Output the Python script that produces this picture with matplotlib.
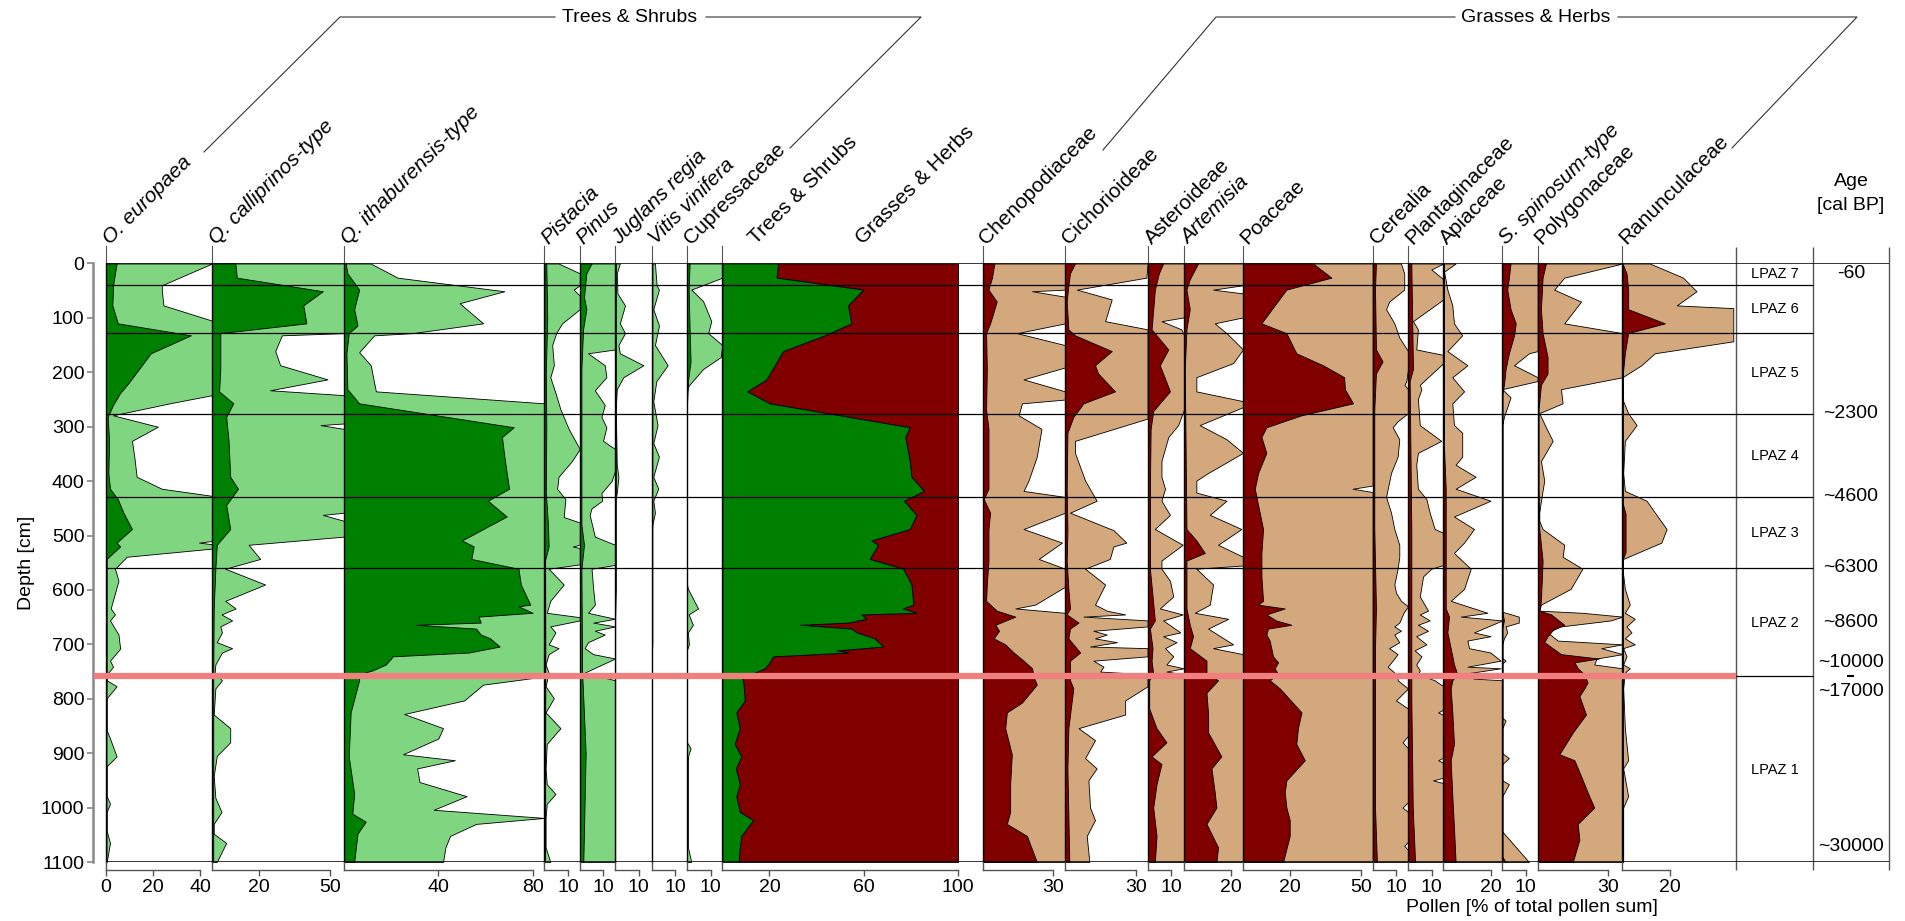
import matplotlib
matplotlib.use("Agg")
import matplotlib.pyplot as plt
from matplotlib.lines import Line2D

plt.rcParams['font.family'] = ['Liberation Sans', 'DejaVu Sans']

# ---------------------------------------------------------------- data
# (depth [cm], percent) vertices; *_EX = exaggerated curve drawn behind
OLEA = [(0,4.5),(40,3),(77,2.7),(110,5),(132,36),(165,19),(194,14),(220,9.5),(238,6),(260,3),(282,0.7),
        (326,1.3),(385,1),(414,1.7),(433,5),(458,7.4),(488,11),(513,4.5),(520,6),(543,0.3),(600,0.3),
        (700,0.3),(759,0.3),(800,0.2),(1100,0.2)]
OLEA_EX = [(0,45),(40,23.7),(51,23.7),(77,24.4),(105,45),(242,45),(257,27),(279,3),(300,22),(326,11),
           (355,12),(392,13),(414,23.7),(427,45),(510,45),(513,39.5),(516,45),(524,45),(539,8.8),(561,3.8),
           (583,5.3),(634,2),(645,3.8),(656,1.7),(682,5.3),(708,6),(730,1.7),(741,3),(752,1),(766,0.3),
           (777,4.5),(799,0.3),(858,0.3),(873,1.7),(906,4.5),(924,0.3),(979,0.3),(993,1.7),(1008,0.3),
           (1043,0.3),(1065,1.7),(1100,0.3)]
QCAL = [(0,9.9),(26,10.5),(51,47),(77,38.7),(110,40),(128,3.5),(194,3.5),(235,3),(257,9),(282,6),(326,7),
        (392,7.7),(414,11),(444,6),(488,7.7),(517,2),(561,1.4),(634,0.7),(700,0.6),(759,0.5),(1100,0.5)]
QCAL_EX = [(0,56),(128,56),(132,29.6),(161,26.8),(187,28.9),(213,49),(233,24.6),(242,56),(294,56),(297,46),
           (304,56),(458,56),(462,47),(473,56),(502,56),(517,15.5),(543,20.4),(561,5.6),(590,22.5),(620,5.6),
           (634,10),(645,4),(656,8.5),(667,3.5),(678,4.2),(696,2),(707,8.5),(715,4.2),(737,1.4),(752,1.1),
           (766,4.2),(781,1.4),(829,0.7),(854,7.7),(880,7.7),(905,2),(942,0.7),(982,1.4),(1008,4),(1030,0.7),
           (1048,0.7),(1065,6),(1100,2)]
QITH = [(0,0.7),(18,1.4),(48,6.4),(84,4.3),(114,5.7),(128,2),(165,1),(231,1.4),(257,6.4),(301,72),(319,67),
        (355,68),(414,70),(436,61),(465,69),(509,50),(520,55),(543,54),(561,74),(590,75),(627,79),(630,74),
        (642,80),(649,57),(660,58),(664,30.5),(671,56),(682,58),(689,62),(704,66),(715,53),(722,20.6),
        (726,20),(737,17.7),(748,12),(755,6.4),(766,6.4),(789,5),(825,2.8),(906,2),(975,4.3),(1011,3.5),
        (1026,9.2),(1048,5.7),(1100,4.3)]
QITH_EX = [(0,11.3),(26,22.7),(51,68),(73,49),(110,59),(128,29),(132,12.8),(163,6.4),(187,11.3),(235,13.5),
           (257,85),(759,85),(766,73),(774,59),(803,51),(828,25.5),(854,42),(873,40),(902,25),(913,47),
           (928,31),(953,32),(979,52),(1004,38),(1019,85),(1030,56),(1052,45),(1073,43),(1100,42)]
PIST = [(0,0.8),(100,1.2),(200,0.6),(300,0.8),(420,0.6),(480,1.5),(520,1.8),(545,0.3),(700,0.4),(1100,0.3)]
PIST_EX = [(0,6),(18,15),(40,15),(48,12.4),(59,15),(84,15),(110,7.5),(128,5),(150,3.3),(187,4),(209,2.5),
           (238,4.7),(268,6.8),(304,10.3),(341,15),(363,11.7),(392,6),(414,5.4),(433,8.9),(466,8.2),(476,15),
           (517,15),(520,12),(523,15),(553,15),(561,1.8),(590,8.2),(620,2.5),(642,1),(650,15),(656,15),
           (667,2.5),(678,4.7),(700,1.8),(707,6),(718,1.8),(737,0.5),(752,1.8),(777,0.5),(799,4),(825,0.5),
           (854,6.8),(883,1),(928,0.5),(957,1),(975,4.7),(993,1),(1019,0.5),(1073,0.5),(1100,2.5)]
PINU = [(0,5),(18,2.8),(62,1.8),(84,2.8),(121,1.4),(194,0.7),(480,0.7),(517,1.8),(561,0.7),(752,1),(800,1.5),
        (900,2.5),(1000,2),(1100,1.5)]
PINU_EX = [(0,15),(158,15),(165,3.5),(187,10.6),(209,11.3),(233,6.4),(260,10.6),(282,9.2),(301,11.3),
           (326,9.9),(341,15),(381,15),(400,13.5),(422,9.2),(436,9.5),(450,5),(462,4.2),(502,6.4),(517,15),
           (554,15),(561,5),(598,5.7),(627,6.4),(642,3.5),(653,15),(660,5.7),(667,15),(675,6.4),(682,10.6),
           (696,3.5),(707,2.1),(718,5.7),(726,15),(740,8),(752,2.1),(766,15),(1100,15)]
JUGL = [(0,0.3),(600,0.3),(650,0),(1100,0)]
JUGL_EX = [(0,2),(18,0.7),(55,1),(77,4.2),(110,2),(128,4.2),(150,1.4),(165,2),(187,12),(209,3.5),(231,0.7),
           (268,0.3),(370,0.7),(392,1.4),(422,0.7),(436,0),(1100,0)]
VITI = [(0,0.3),(700,0.3),(720,0),(1100,0)]
VITI_EX = [(0,1.4),(40,2.1),(48,3.1),(84,0.7),(114,3.1),(150,1.4),(187,6.8),(216,2),(253,0.7),(297,2.5),
           (330,0.7),(355,3.1),(392,0.7),(414,2.8),(436,0.7),(458,1.4),(480,0.3),(500,0),(1100,0)]
CUPR = [(0,1.1),(48,0.7),(121,1.1),(180,1.5),(213,0.5),(260,0),(1100,0)]
CUPR_EX = [(0,15),(26,15),(48,1.8),(69,6.8),(106,10.3),(128,9),(150,15),(172,14.3),(194,6.8),(227,0.2),
           (240,0),(590,0),(598,0.4),(634,4.7),(645,0.7),(664,2.5),(678,0.4),(700,0.8),(710,0),(880,0),
           (891,1.5),(906,0.4),(1073,0.4),(1100,1.8)]
TREES_SUM = [(0,23.6),(26,23),(48,59.7),(77,53.3),(110,54.7),(132,43.4),(161,25.7),(187,22.2),(213,18.7),
             (235,10.5),(257,20),(301,79.5),(319,77.6),(363,79.5),(392,80.2),(418,85.5),(436,77),(462,82.3),
             (488,79.5),(509,63.2),(517,66),(543,62.5),(561,76.7),(590,80.2),(627,81),(634,76.5),(642,82.3),
             (645,59),(653,61),(660,53.3),(664,32.8),(671,54.7),(678,57),(682,59.7),(689,64.6),(704,68.2),
             (711,48.4),(715,53.3),(722,21.5),(733,20),(744,18),(752,13.7),(759,8),(766,8.8),(803,9.5),
             (825,5.9),(854,7.4),(883,5.2),(906,8),(928,5.7),(957,7.4),(979,5.9),(1008,7.4),(1023,13),
             (1052,8),(1073,7.4),(1100,6.9)]
CHEN = [(0,5),(26,4),(48,2.5),(70,6),(110,3.2),(128,1.5),(194,1.8),(268,1.5),(304,2.5),(414,2.5),(433,0.5),
        (458,3.2),(488,2.5),(546,2.5),(590,1.8),(620,1.5),(638,6),(649,13.9),(664,5.4),(675,7),(689,4.7),
        (700,9.6),(715,13.2),(730,17.4),(744,21),(759,21.6),(774,23),(807,16.7),(825,10.3),(854,9.6),
        (902,12.4),(957,11.7),(1008,11.7),(1030,10.3),(1052,18.8),(1100,23)]
CHEN_EX = [(0,35),(48,35),(51,21),(61,35),(110,35),(128,14.6),(150,35),(191,35),(213,17.4),(235,35),
           (250,35),(257,16.7),(279,15.3),(304,25),(355,23),(399,19.5),(418,17.4),(429,35),(458,35),
           (488,17.4),(513,33.7),(543,23.8),(561,35),(594,35),(627,22.3),(634,13.9),(642,35),(1100,35)]
CICH = [(0,4.2),(18,2.1),(40,1.4),(70,0.7),(121,1.4),(132,4.2),(161,19.8),(187,12.7),(202,14),(235,21.2),
        (257,7.8),(282,3.5),(311,1),(414,0.7),(488,1),(546,0.7),(598,1.4),(634,2.1),(645,0.7),(660,5.7),
        (671,2.1),(689,1.4),(715,6.4),(730,2.1),(752,2.1),(766,2.1),(781,3.5),(854,1.4),(928,1),(1100,1.8)]
CICH_EX = [(0,35),(26,34.5),(48,5),(66,19.8),(106,17),(121,35),(285,35),(326,4.2),(348,4.2),(399,8.5),
           (436,13.4),(458,2.1),(490,20.5),(513,26),(520,20.5),(543,19),(561,8.5),(590,17),(627,12.7),
           (638,17.7),(645,25.5),(649,7.8),(656,35),(667,35),(675,12),(682,17.7),(689,12.7),(696,22),
           (704,10.6),(707,35),(722,35),(730,12),(741,16.3),(750,14.9),(755,35),(777,35),(803,25.5),
           (829,25.5),(854,5.7),(876,12.7),(909,8.5),(928,13.4),(950,9.9),(1000,10.6),(1023,12.7),
           (1052,9.2),(1100,10.3)]
ASTE = [(0,6.6),(18,4.8),(48,3.1),(121,1.7),(158,8.8),(187,5.2),(235,9.5),(271,2.4),(304,1.3),(414,1),
        (561,1),(656,3.1),(671,1),(707,2.1),(730,1.7),(755,2.4),(766,0.7),(818,0.7),(854,3.8),(880,8),
        (906,1.7),(920,5.9),(957,3.8),(1000,2.4),(1052,3.8),(1100,3.1)]
ASTE_EX = [(0,15.5),(99,15.5),(106,5.9),(121,14.3),(132,15.5),(268,15.5),(297,13),(319,8.8),(363,5.9),
           (392,5.9),(414,7.4),(436,5.9),(462,9.5),(488,3.1),(517,14.9),(546,5.9),(561,5.9),(583,9.5),
           (612,10.9),(634,5.2),(645,14.9),(656,6.6),(678,13.9),(685,6.6),(696,12.3),(707,7.4),(722,10.9),
           (737,8),(744,15.3),(750,8),(755,15.5),(1100,15.5)]
ARTE = [(0,5.9),(29,2.4),(48,1),(84,2.4),(121,1),(194,0.3),(488,1),(509,5.2),(532,8.8),(546,1),(634,1),
        (664,2.4),(685,3.8),(707,2.4),(730,9.5),(752,9.5),(766,14.4),(789,9.5),(829,10.2),(862,10.2),
        (906,15.8),(928,11.6),(972,13),(1000,13.7),(1030,9.5),(1073,14.4),(1100,13.7)]
ARTE_EX = [(0,25),(40,25),(48,12.3),(55,25),(99,25),(110,13),(128,18),(158,25),(183,20.8),(209,5.2),
           (235,5.2),(253,25),(264,25),(297,6.6),(323,18),(348,25),(385,10.2),(399,5.2),(421,5.2),(436,18),
           (462,10.9),(488,24.3),(517,14.4),(539,25),(555,25),(561,5.2),(590,12.3),(627,10.9),(642,4.5),
           (653,18.7),(671,10.2),(700,20.8),(707,12.3),(718,25),(1100,25)]
POAC = [(0,29.7),(26,37.5),(48,18.4),(77,13.4),(110,7.8),(128,18.4),(165,22.6),(187,33.9),(209,42.9),
        (231,43.2),(257,46.7),(279,24.8),(301,9.9),(319,7.8),(348,9.9),(385,6.4),(414,5),(444,6.4),
        (488,8.5),(532,7.8),(575,7.8),(620,8.5),(627,6.4),(634,17.7),(645,9.9),(656,14),(664,20.5),
        (671,10.6),(682,9.9),(693,11.3),(707,12),(722,12.7),(733,14.9),(744,13.4),(755,14.9),(766,11.3),
        (781,15.6),(825,24.8),(854,23.3),(883,22.6),(913,26.2),(950,18.4),(972,17.7),(1000,18.4),
        (1023,19.8),(1052,19.8),(1100,17)]
POAC_EX = [(0,55),(408,55),(414,46.5),(420,55),(1100,55)]
CERE = [(0,1.4),(48,1),(158,1.4),(180,4.2),(202,1.4),(268,0.7),(488,0.7),(634,1.4),(707,1),(1000,1),(1100,1.8)]
CERE_EX = [(0,12),(18,13.4),(48,13.4),(70,7),(84,5.7),(110,9.2),(136,11.3),(161,15),(194,15),(216,14.3),
           (223,13.5),(231,15),(275,15),(290,10.6),(301,8.5),(323,11.3),(355,10.6),(385,7.8),(414,6.4),
           (429,5.7),(458,7.8),(488,9.2),(517,11.3),(539,11.3),(561,10.6),(590,9.2),(605,9.9),(620,12),
           (630,15),(642,13.1),(660,11.3),(667,9.2),(675,12),(682,9.2),(696,11.3),(707,7),(718,10.6),
           (726,9.2),(741,6.4),(752,9.2),(759,10.6),(766,10.6),(781,15),(803,9.9),(818,15),(868,15),
           (880,12.7),(891,15),(990,15),(1000,12.7),(1008,15),(1063,15),(1070,13.4),(1078,15),(1100,15)]
PLAN = [(0,1.4),(194,2.1),(216,0.7),(488,1.4),(800,1.4),(1000,2),(1100,3)]
PLAN_EX = [(0,15),(11,9.9),(29,15),(66,15),(106,2.1),(121,4.2),(158,3.5),(168,15),(183,15),(223,5),
           (231,5.7),(249,4.2),(297,5),(326,14.1),(348,4.2),(370,3.5),(414,4.2),(433,7.8),(458,9.2),
           (488,11.3),(495,15),(554,15),(561,9.9),(575,6.4),(612,5),(638,8.5),(645,5),(656,9.2),(664,4.2),
           (675,8.5),(685,3.5),(700,7.8),(711,2.8),(722,5.7),(737,3.5),(748,5),(755,4.2),(766,11.3),
           (777,15),(820,15),(825,12.8),(830,15),(908,15),(913,12.8),(918,15),(945,15),(950,10.6),
           (955,15),(1100,15)]
APIA = [(0,0.3),(341,0.3),(414,1),(634,1),(649,2.4),(678,1.7),(707,3.1),(737,4.5),(755,5.9),(766,3.8),
        (781,3.1),(825,3.8),(883,4.5),(913,3.1),(979,3.8),(1037,4.5),(1100,5.2)]
APIA_EX = [(0,5.2),(15,0.3),(48,1.7),(77,3.8),(110,4.5),(132,8),(161,1.7),(187,10.2),(209,3.8),(235,8.8),
           (257,3.8),(297,4.5),(311,8),(355,8),(370,5.2),(392,13.7),(414,5.2),(436,20),(465,4.5),(488,13),
           (513,8.8),(532,4.5),(561,11.6),(598,8.8),(620,3.1),(642,18.7),(649,7.4),(656,25),(678,13),
           (685,20),(693,10.2),(707,10.9),(715,20),(730,24.3),(741,10.2),(744,24.3),(755,7.4),(763,13),
           (766,25),(1100,25)]
SARC = [(0,3.5),(26,2.8),(48,2.1),(84,3.5),(110,5.7),(132,5),(165,2.8),(194,1.4),(223,0.7),(240,0),
        (640,0),(656,0.7),(670,0),(1090,0),(1100,1.4)]
SARC_EX = [(0,15),(161,15),(165,11.3),(187,5),(209,15),(216,15),(231,0),(246,3.5),(282,0.7),(297,0),
           (640,0),(649,7),(660,7),(667,1.4),(678,2.1),(689,0.7),(700,0),(725,0),(730,1.4),(735,0),
           (835,0),(840,1.4),(854,0),(900,0),(909,2.8),(920,0),(950,0),(957,2.8),(979,0),(1044,0),(1100,11.3)]
POLY = [(0,3.5),(26,2.1),(84,1.4),(128,2.1),(172,4.2),(202,4.2),(223,1.4),(268,0.4),(414,0.4),(488,0.7),
        (546,2.1),(620,1.4),(638,0.7),(645,5.7),(664,11.3),(671,7),(685,4.2),(696,2.8),(707,6.4),(718,9.9),
        (726,26),(733,15.6),(744,17),(755,19.8),(770,21.2),(781,19.8),(795,17.7),(829,20.5),(862,14.9),
        (902,9.2),(913,15.6),(942,18.4),(972,21.2),(1000,24),(1030,17),(1059,17.7),(1100,14.9)]
POLY_EX = [(0,36),(26,11.3),(48,7),(70,18.4),(110,11.3),(128,36),(209,36),(231,9.9),(257,10.6),(275,0.7),
           (301,3.5),(326,6.4),(363,1.4),(399,2.8),(436,1.4),(458,0.7),(473,0.7),(488,2.1),(517,11.3),
           (539,10.6),(561,19),(598,14),(627,1.4),(638,0.7),(642,19),(649,36),(656,31),(667,9.9),(678,4.2),
           (693,8.5),(700,36),(707,27),(718,36),(726,25),(737,24),(744,36),(1100,36)]
RANU = [(0,0),(18,1.7),(48,2.4),(84,2.4),(110,18),(128,2.4),(165,1),(209,0),(440,0),(460,1.3),(530,1.3),
        (545,0),(1100,0)]
RANU_EX = [(0,11.6),(26,25.7),(51,31.4),(77,23),(82,47),(143,47),(165,13.7),(187,8),(209,0),(253,0.3),
           (275,2.4),(297,6),(326,1),(385,0.3),(418,1),(436,10.2),(488,18.7),(513,16.5),(543,0.3),(561,0),
           (598,1),(627,3.1),(642,1),(653,5.2),(667,1.7),(678,3.8),(689,1),(700,5.2),(707,0.3),(722,1.7),
           (737,0.3),(744,3.1),(752,1),(781,0.3),(854,1),(913,2.4),(928,0.3),(979,2.4),(1000,0.3),(1100,0.3)]

ZONE_BOUNDS = [40, 127, 277, 430, 560]
HIATUS_DEPTH = 759
ZONE_NAMES = ['LPAZ 7', 'LPAZ 6', 'LPAZ 5', 'LPAZ 4', 'LPAZ 3', 'LPAZ 2', 'LPAZ 1']
ZONE_LABEL_DEPTHS = [20, 83, 202, 353, 495, 660, 930]
AGE_TEXT = ['-60', '~2300', '~4600', '~6300', '~8600', '~10000', '~17000', '~30000']
AGE_DEPTHS = [18, 276, 428, 558, 660, 734, 787, 1071]
DEPTH_TICKS = list(range(0, 1101, 100))

# ---------------------------------------------------------------- style
DK_GREEN, LT_GREEN = '#008000', '#80D680'
DK_RED, TAN = '#800000', '#D3A87C'
HIATUS = '#F08080'

W, H = 1906, 921
Y_TOP, Y_BOT = 263.5, 862.0
X0, PPU = 106.0, 2.357          # left edge of first panel, pixels per percent
LABEL_Y = 246.0
LABEL_FS = 15

# label, italic, curve, exaggerated curve, colours, panel width (%), ticks
TAXA = [
    ('O. europaea', True, OLEA, OLEA_EX, 'tree', 45, [0, 20, 40]),
    ('Q. calliprinos-type', True, QCAL, QCAL_EX, 'tree', 56, [20, 50]),
    ('Q. ithaburensis-type', True, QITH, QITH_EX, 'tree', 85, [40, 80]),
    ('Pistacia', True, PIST, PIST_EX, 'tree', 15, [10]),
    ('Pinus', True, PINU, PINU_EX, 'tree', 15, [10]),
    ('Juglans regia', True, JUGL, JUGL_EX, 'tree', 15.5, [10]),
    ('Vitis vinifera', True, VITI, VITI_EX, 'tree', 15, [10]),
    ('Cupressaceae', False, CUPR, CUPR_EX, 'tree', 15, [10]),
    ('SUM', False, TREES_SUM, None, 'sum', 100, [20, 60, 100]),
    ('Chenopodiaceae', False, CHEN, CHEN_EX, 'herb', 35, [30]),
    ('Cichorioideae', False, CICH, CICH_EX, 'herb', 35, [30]),
    ('Asteroideae', False, ASTE, ASTE_EX, 'herb', 15.5, [10]),
    ('Artemisia', True, ARTE, ARTE_EX, 'herb', 25, [20]),
    ('Poaceae', False, POAC, POAC_EX, 'herb', 55, [20, 50]),
    ('Cerealia', False, CERE, CERE_EX, 'herb', 15, [10]),
    ('Plantaginaceae', False, PLAN, PLAN_EX, 'herb', 15, [10]),
    ('Apiaceae', False, APIA, APIA_EX, 'herb', 25, [20]),
    ('S. spinosum-type', True, SARC, SARC_EX, 'herb', 15, [10]),
    ('Polygonaceae', False, POLY, POLY_EX, 'herb', 36, [30]),
    ('Ranunculaceae', False, RANU, RANU_EX, 'herb', 48.3, [20]),
]
GAP_AFTER_SUM = 10.4

fig = plt.figure(figsize=(W / 100, H / 100), dpi=100)


def fig_line(xs, ys, **kw):
    kw.setdefault('color', '#333333')
    kw.setdefault('lw', 0.8)
    fig.add_artist(Line2D([x / W for x in xs], [1 - y / H for y in ys],
                          transform=fig.transFigure, **kw))


def fig_text(x, y, s, **kw):
    fig.text(x / W, 1 - y / H, s, **kw)


def split(pts):
    return [p[0] for p in pts], [p[1] for p in pts]


offset = 0.0
for label, italic, curve, curve_ex, kind, width, ticks in TAXA:
    left_px = X0 + offset * PPU
    ax = fig.add_axes([left_px / W, 1 - Y_BOT / H, width * PPU / W, (Y_BOT - Y_TOP) / H])
    ax.set_xlim(0, width)
    ax.set_ylim(1100, 0)
    ax.patch.set_alpha(0)
    for s in ('top', 'right'):
        ax.spines[s].set_visible(False)
    ax.spines['left'].set_color('black')
    ax.spines['left'].set_linewidth(1.0)
    ax.spines['left'].set_zorder(4)
    ax.spines['bottom'].set_position(('outward', 6))
    ax.spines['bottom'].set_bounds(0, ticks[-1])
    ax.spines['bottom'].set_color('#555555')
    ax.spines['bottom'].set_linewidth(1.0)
    ax.set_yticks([])
    ax.set_xticks(ticks)
    ax.set_xticklabels([str(t) for t in ticks])
    ax.tick_params(axis='x', direction='out', length=4.5, width=1.0, color='#555555',
                   labelsize=14, pad=2)

    d, v = split(curve)
    if kind == 'sum':
        ax.fill_betweenx(d, v, 100, facecolor=DK_RED, edgecolor='black', linewidth=0.6)
        ax.fill_betweenx(d, 0, v, facecolor=DK_GREEN, edgecolor='black', linewidth=0.6)
    else:
        dark, light = (DK_GREEN, LT_GREEN) if kind == 'tree' else (DK_RED, TAN)
        de, ve = split(curve_ex)
        ax.fill_betweenx(de, 0, ve, facecolor=light, edgecolor='black', linewidth=0.6)
        ax.fill_betweenx(d, 0, v, facecolor=dark, edgecolor='black', linewidth=0.6)

    # connector to the offset bottom axis and label stem above the plot
    fig_line([left_px, left_px], [Y_BOT, Y_BOT + 8], color='#555555', lw=1.0)
    fig_line([left_px, left_px], [LABEL_Y, Y_TOP], color='#555555', lw=0.8)

    style = 'italic' if italic else 'normal'
    if kind == 'sum':
        fig_text(left_px + 34, LABEL_Y - 1, 'Trees & Shrubs', rotation=45,
                 rotation_mode='anchor', ha='left', va='baseline', fontsize=LABEL_FS)
        fig_text(left_px + 141, LABEL_Y - 1, 'Grasses & Herbs', rotation=45,
                 rotation_mode='anchor', ha='left', va='baseline', fontsize=LABEL_FS)
        offset += width + GAP_AFTER_SUM
    else:
        fig_text(left_px + 4, LABEL_Y - 1, label, rotation=45, rotation_mode='anchor',
                 ha='left', va='baseline', fontsize=LABEL_FS, style=style)
        offset += width

# ---------------------------------------------------------------- zones / age / depth axis
ZONE_L = X0 + offset * PPU          # left edge of the zone column
ZONE_R = ZONE_L + 76.6
AGE_R = ZONE_R + 76.0
ov = fig.add_axes([X0 / W, 1 - Y_BOT / H, (AGE_R - X0) / W, (Y_BOT - Y_TOP) / H])
ov.set_zorder(10)
ov.patch.set_alpha(0)
ov.set_xlim(X0, AGE_R)
ov.set_ylim(1100, 0)
for s in ('top', 'right', 'bottom'):
    ov.spines[s].set_visible(False)
ov.spines['left'].set_position(('outward', 9.5))
ov.spines['left'].set_color('#888888')
ov.spines['left'].set_linewidth(1.8)
ov.set_xticks([])
ov.set_yticks(DEPTH_TICKS)
ov.tick_params(axis='y', direction='out', length=4, width=1.2, color='#888888', labelsize=14, pad=2)
ov.set_ylabel('Depth [cm]', fontsize=14, labelpad=4)

ov.hlines(ZONE_BOUNDS + [HIATUS_DEPTH], X0, ZONE_R, color='black', lw=0.9, zorder=3)
ov.hlines(HIATUS_DEPTH, X0 - 12, ZONE_L, color=HIATUS, lw=4.5, zorder=4, clip_on=False)
ov.hlines([0, 1100], X0, AGE_R, color='black', lw=1.1, zorder=3)
ov.vlines([ZONE_L, ZONE_R, AGE_R], -31, 1114, color='#555555', lw=1.0, clip_on=False)
for name, dep in zip(ZONE_NAMES, ZONE_LABEL_DEPTHS):
    ov.text((ZONE_L + ZONE_R) / 2, dep, name, ha='center', va='center', fontsize=10.5)
for txt, dep in zip(AGE_TEXT, AGE_DEPTHS):
    ov.text((ZONE_R + AGE_R) / 2, dep, txt, ha='center', va='center', fontsize=14)
ov.hlines(HIATUS_DEPTH, (ZONE_R + AGE_R) / 2 - 4, (ZONE_R + AGE_R) / 2 + 3, color='black', lw=1.5)

fig_text((ZONE_R + AGE_R) / 2, 182, 'Age', ha='center', va='center', fontsize=14)
fig_text((ZONE_R + AGE_R) / 2, 206, '[cal BP]', ha='center', va='center', fontsize=14)
fig_text(1532, 907, 'Pollen [% of total pollen sum]', ha='center', va='center', fontsize=14)

# ---------------------------------------------------------------- group brackets
fig_text(630, 17, 'Trees & Shrubs', ha='center', va='center', fontsize=14)
fig_line([204, 340, 555], [152, 17, 17], color='#333333', lw=0.8)
fig_line([706, 921, 790], [17, 17, 148], color='#333333', lw=0.8)
fig_text(1536, 17, 'Grasses & Herbs', ha='center', va='center', fontsize=14)
fig_line([1103, 1216, 1455], [150, 17, 17], color='#333333', lw=0.8)
fig_line([1618, 1857, 1732], [17, 17, 148], color='#333333', lw=0.8)

fig.savefig('out.png', dpi=100)
